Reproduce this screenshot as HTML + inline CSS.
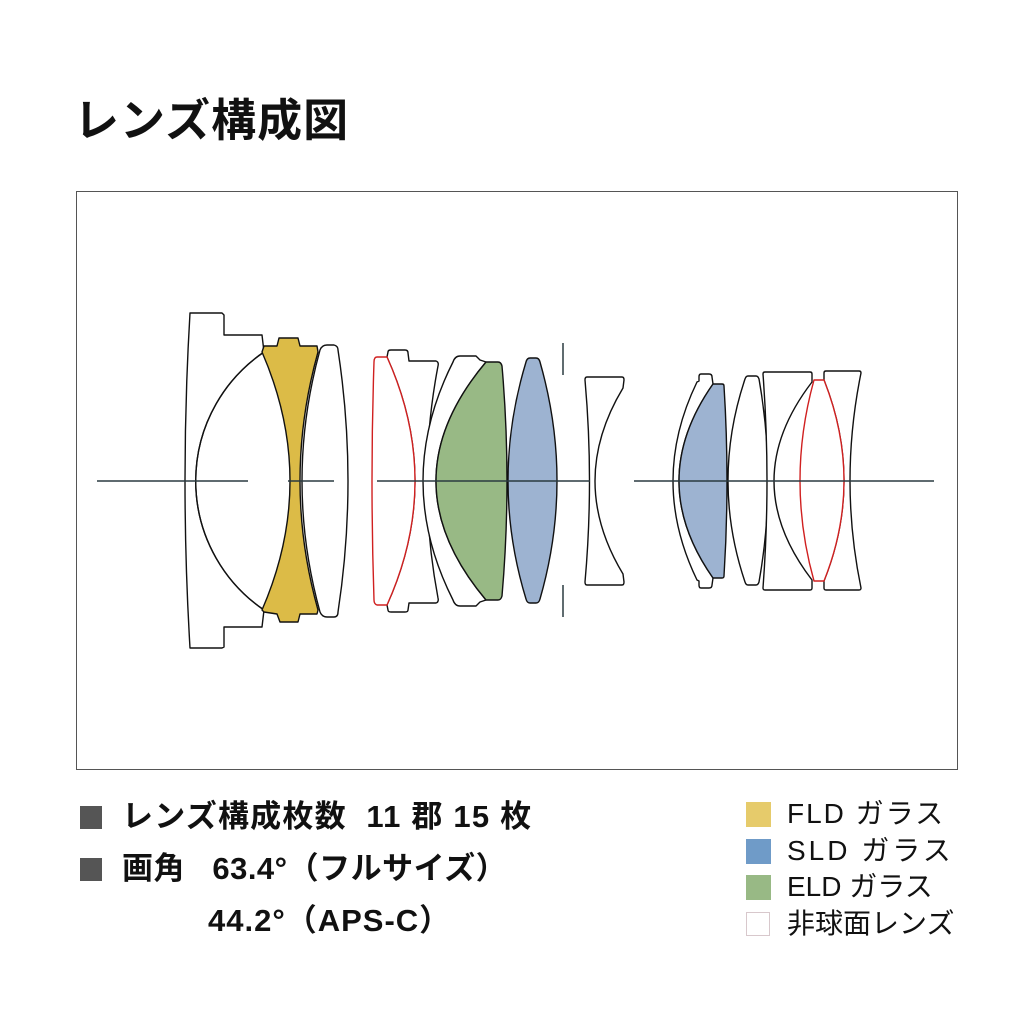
<!DOCTYPE html>
<html><head><meta charset="utf-8"><style>
body{margin:0;width:1034px;height:1035px;background:#fff;position:relative;overflow:hidden;font-family:"Liberation Sans","Noto Sans CJK JP",sans-serif;color:#111}
.t{position:absolute;white-space:nowrap;line-height:1}
.sq{position:absolute}
</style></head><body>
<div class="t" style="left:74px;top:98px;font-size:45px;font-weight:bold;letter-spacing:1px">レンズ構成図</div>
<svg style="position:absolute;left:0;top:0" width="1034" height="1035">
<rect x="76.5" y="191.5" width="881" height="578" fill="none" stroke="#555" stroke-width="1"/>
<g stroke="#111" stroke-width="1.4" fill="#fff" stroke-linejoin="round">
<path d="M190,313 L222,313 L224,315 L224,335 L262,335 L264,352 A156,156 0 0 0 264,610 L262,627 L224,627 L224,647 L222,648 L190,648 Q180,481 190,313Z"/>
<path d="M264,352 A156,156 0 0 0 264,610" fill="none"/>
<path d="M264,346 L277,346 L279,338 L298,338 L300,346 L317,346 L318,352 Q282,481 318,610 L317,614 L300,614 L298,622 L280,622 L277,614 L264,612 L262,610 Q318,481 262,352Z" fill="#dcbb47"/>
<path d="M327,345 L334,345 Q338,346 338,350 Q358,481 338,612 Q338,617 334,617 L327,617 Q322,617 320,612 Q284,481 320,350 Q322,345 327,345Z"/>
<path d="M388,352 Q388,350 391,350 L405,350 Q408,350 408,353 L409,361 L436,361 Q439,362 438,366 Q416,481 438,598 Q439,602 436,603 L409,603 L408,610 Q408,612 405,612 L391,612 Q388,612 388,610 L387,605 Q443,481 387,357Z"/>
<path d="M377,357 L387,357 Q443,481 387,605 L377,605 Q374,604 374,600 Q370,481 374,362 Q374,357 377,357Z" stroke="#d02020"/>
<path d="M460,356 L476,356 L480,360 L486,362 Q386,481 486,600 L480,602 L476,606 L460,606 Q455,606 453,600 Q393,481 453,362 Q455,356 460,356Z"/>
<path d="M486,362 L498,362 Q501,362 502,366 Q512,481 502,596 Q501,600 498,600 L486,600 Q386,481 486,362Z" fill="#98b985"/>
<path d="M530,358 L536,358 Q539,358 540,362 Q574,481 540,599 Q539,603 536,603 L530,603 Q527,603 526,599 Q490,481 526,362 Q527,358 530,358Z" fill="#9db3d1"/>
<path d="M587,377 L622,377 Q624,377 624,380 L623,388 Q567,481 623,574 L624,582 Q624,585 622,585 L587,585 Q585,585 585,582 Q594,481 585,380 Q585,377 587,377Z"/>
<path d="M701,374 L709,374 Q712,374 712,377 L713,384 Q645,481 713,578 L712,585 Q712,588 709,588 L701,588 Q699,588 699,585 L699,581 L697,580 Q649,481 697,382 L699,381 L699,377 Q699,374 701,374Z"/>
<path d="M713,384 L722,384 Q724,384 724,386 Q730,481 724,576 Q724,578 722,578 L713,578 Q645,481 713,384Z" fill="#9db3d1"/>
<path d="M748,376 L756,376 Q758,376 759,379 Q777,481 759,582 Q758,585 756,585 L748,585 Q746,585 745,582 Q711,481 745,379 Q746,376 748,376Z"/>
<path d="M765,372 L810,372 Q812,372 812,374 L812,382 Q736,481 812,580 L812,588 Q812,590 810,590 L765,590 Q763,590 763,588 Q771,481 763,374 Q763,372 765,372Z"/>
<path d="M826,371 L859,371 Q861,371 861,373 Q839,481 861,588 Q861,590 859,590 L826,590 Q824,590 824,588 L824,581 Q864,481 824,380 L824,373 Q824,371 826,371Z"/>
<path d="M814,380 L824,380 Q864,481 824,581 L814,581 Q786,481 814,380Z" stroke="#d02020" fill="#fff"/>
</g>
<g stroke="#2a3a40" stroke-width="1.5">
<line x1="97" y1="481" x2="248" y2="481"/>
<line x1="288" y1="481" x2="334" y2="481"/>
<line x1="377" y1="481" x2="590" y2="481"/>
<line x1="634" y1="481" x2="934" y2="481"/>
<line x1="563" y1="343" x2="563" y2="375"/>
<line x1="563" y1="585" x2="563" y2="617"/>
</g>
</svg>
<div class="sq" style="left:80px;top:806px;width:22px;height:23px;background:#555"></div>
<div class="sq" style="left:80px;top:858px;width:22px;height:23px;background:#555"></div>
<div class="t" style="left:122px;top:801px;font-size:31px;font-weight:bold;letter-spacing:1.2px">レンズ構成枚数&nbsp;&nbsp;11 郡 15 枚</div>
<div class="t" style="left:122px;top:853px;font-size:31px;font-weight:bold;letter-spacing:0.5px">画角&nbsp;&nbsp;&nbsp;63.4°（フルサイズ）</div>
<div class="t" style="left:208px;top:905px;font-size:31px;font-weight:bold;letter-spacing:1px">44.2°（APS-C）</div>
<div class="sq" style="left:746px;top:802px;width:25px;height:25px;background:#e6cb6b"></div>
<div class="sq" style="left:746px;top:839px;width:25px;height:25px;background:#6f9bc8"></div>
<div class="sq" style="left:746px;top:875px;width:25px;height:25px;background:#98b985"></div>
<div class="sq" style="left:746px;top:912px;width:24px;height:24px;border:1px solid #d8c8cc;box-sizing:border-box"></div>
<div class="t" style="left:787px;top:800px;font-size:28px;letter-spacing:2px">FLD ガラス</div>
<div class="t" style="left:787px;top:837px;font-size:28px;letter-spacing:3px">SLD ガラス</div>
<div class="t" style="left:787px;top:873px;font-size:28px">ELD ガラス</div>
<div class="t" style="left:787px;top:910px;font-size:28px">非球面レンズ</div>
</body></html>
